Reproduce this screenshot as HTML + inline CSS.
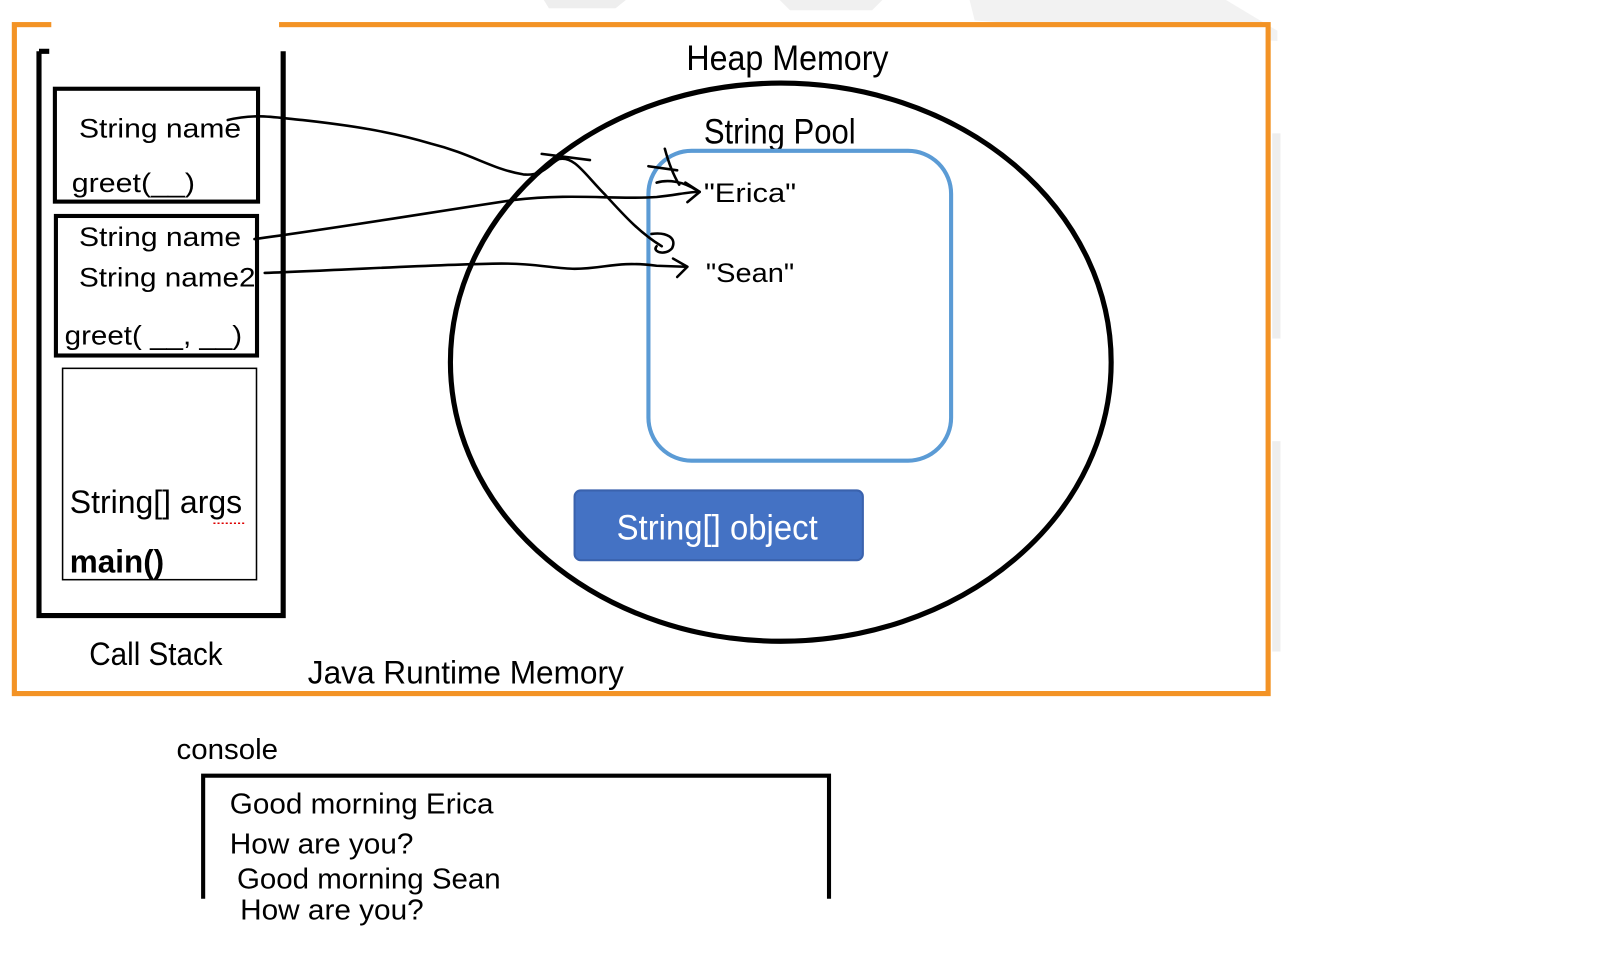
<!DOCTYPE html>
<html><head><meta charset="utf-8"><style>
html,body{margin:0;padding:0;background:#fff;width:1606px;height:975px;overflow:hidden}
text{font-family:"Liberation Sans Narrow","Liberation Sans",sans-serif}
</style></head><body>
<svg width="1606" height="975" viewBox="0 0 1606 975" xmlns="http://www.w3.org/2000/svg">
<g transform="scale(1.026)">
<rect x="1240" y="130" width="8" height="200" fill="#eee"/>
<rect x="1240" y="430" width="8" height="205" fill="#eee"/>
<polygon points="530,0 610,0 600,8 535,8" fill="#eee"/>
<polygon points="760,0 860,0 850,10 770,10" fill="#f0f0f0"/>
<polygon points="945,0 1195,0 1245,30 1245,40 950,20" fill="#f2f2f2"/>
<rect x="14" y="24" width="1222" height="652" fill="#fff" stroke="#f39325" stroke-width="5"/>
<rect x="50" y="18" width="222" height="10" fill="#fff"/>
<path d="M38,50 L48,50 M38,50 L38,600 L276,600 L276,50" fill="none" stroke="#000" stroke-width="5"/>
<rect x="53.5" y="86.5" width="198" height="110" fill="none" stroke="#000" stroke-width="4"/>
<rect x="54.5" y="210.5" width="196" height="136" fill="none" stroke="#000" stroke-width="4"/>
<rect x="61" y="359" width="189" height="206" fill="none" stroke="#000" stroke-width="1.5"/>
<g font-size="26" fill="#000">
<text x="77" y="134" textLength="158" lengthAdjust="spacingAndGlyphs">String name</text>
<text x="70" y="187" textLength="120" lengthAdjust="spacingAndGlyphs">greet(__)</text>
<text x="77" y="240" textLength="158" lengthAdjust="spacingAndGlyphs">String name</text>
<text x="77" y="279" textLength="172" lengthAdjust="spacingAndGlyphs">String name2</text>
<text x="63" y="336" textLength="173" lengthAdjust="spacingAndGlyphs">greet( __, __)</text>
<text x="68" y="500" font-size="32" textLength="168" lengthAdjust="spacingAndGlyphs">String[] args</text>
<text x="68" y="558" font-size="32" font-weight="bold" textLength="92" lengthAdjust="spacingAndGlyphs">main()</text>
<text x="87" y="648" font-size="32" textLength="130" lengthAdjust="spacingAndGlyphs">Call Stack</text>
<text x="300" y="666" font-size="32" textLength="308" lengthAdjust="spacingAndGlyphs">Java Runtime Memory</text>
<text x="669" y="68" font-size="34" textLength="197" lengthAdjust="spacingAndGlyphs">Heap Memory</text>
<text x="686" y="140" font-size="34" textLength="148" lengthAdjust="spacingAndGlyphs">String Pool</text>
<text x="686" y="197" textLength="90" lengthAdjust="spacingAndGlyphs">"Erica"</text>
<text x="688" y="275" textLength="86" lengthAdjust="spacingAndGlyphs">"Sean"</text>
</g>
<line x1="208" y1="510" x2="240" y2="510" stroke="#d00" stroke-width="1.5" stroke-dasharray="2,2"/>
<ellipse cx="761" cy="353" rx="322" ry="272" fill="none" stroke="#000" stroke-width="5"/>
<rect x="632" y="147" width="295" height="302" rx="42" fill="none" stroke="#5b9bd5" stroke-width="4"/>
<rect x="560" y="478" width="281" height="68" rx="6" fill="#4472c4" stroke="#3a62ad" stroke-width="2"/>
<text x="601" y="526" font-size="34" fill="#fff" textLength="196" lengthAdjust="spacingAndGlyphs">String[] object</text>
<g fill="none" stroke="#000" stroke-width="2.5" stroke-linecap="round" stroke-linejoin="round">
<path d="M222,117 C250,110 270,115 295,117 C340,122 380,128 420,140 C460,150 480,165 510,170 C530,172 535,160 545,155 C560,152 570,170 590,190 C610,212 625,228 645,240"/>
<path d="M635,228 C650,226 660,232 655,242 C648,250 635,245 640,240"/>
<path d="M528,150 L575,156"/>
<path d="M248,233 C330,222 420,207 500,195 C560,188 600,195 640,192 C660,190 670,187 682,187"/>
<path d="M668,178 L682,187 L670,197"/>
<path d="M648,145 C652,160 656,170 662,180 M632,162 L660,166 M640,178 C650,175 665,176 680,186"/>
<path d="M258,266 C340,263 420,258 480,257 C520,256 540,262 560,262 C590,262 600,254 640,259 L668,260"/>
<path d="M656,252 L670,260 L660,270"/>
</g>
<text x="172" y="740" font-size="28" font-family="Liberation Sans" textLength="99" lengthAdjust="spacingAndGlyphs">console</text>
<path d="M198,876 L198,756 L808,756 L808,876" fill="none" stroke="#000" stroke-width="4"/>
<g font-size="28" font-family="Liberation Sans">
<text x="224" y="793" textLength="257" lengthAdjust="spacingAndGlyphs">Good morning Erica</text>
<text x="224" y="832" textLength="179" lengthAdjust="spacingAndGlyphs">How are you?</text>
<text x="231" y="866" textLength="257" lengthAdjust="spacingAndGlyphs">Good morning Sean</text>
<text x="234" y="896" textLength="179" lengthAdjust="spacingAndGlyphs">How are you?</text>
</g>
</g>
</svg>
</body></html>
